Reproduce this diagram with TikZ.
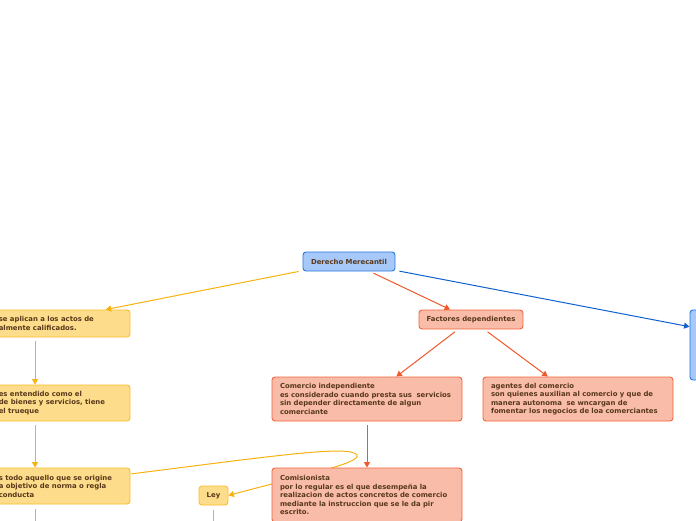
\documentclass[tikz,border=0pt]{standalone}
\usepackage{fontspec}
\setmainfont{DejaVu Sans}
\usetikzlibrary{arrows.meta,positioning,calc}
\definecolor{topicblue}{RGB}{166,201,250}
\definecolor{edgeblue}{RGB}{38,120,222}
\definecolor{linkblue}{RGB}{16,96,208}
\definecolor{topicsalmon}{RGB}{248,188,168}
\definecolor{edgesalmon}{RGB}{242,100,60}
\definecolor{linksalmon}{RGB}{240,88,40}
\definecolor{topicyellow}{RGB}{253,221,140}
\definecolor{edgeyellow}{RGB}{250,190,40}
\definecolor{linkyellow}{RGB}{248,178,16}
\definecolor{inkbrown}{RGB}{88,56,24}

\begin{document}
\begin{tikzpicture}[x=1pt, y=-1pt,
      font=\fontsize{6.9}{8.5}\selectfont\bfseries,
      t/.style={rectangle, rounded corners=3pt, draw, line width=0.9pt, text=inkbrown, inner sep=0pt},
      tb/.style={t, fill=topicblue, draw=edgeblue},
      ts/.style={t, fill=topicsalmon, draw=edgesalmon},
      ty/.style={t, fill=topicyellow, draw=edgeyellow},
      wide/.style={align=left, text width=174pt, minimum width=190pt, minimum height=44pt},
      cut/.style={text=inkbrown, align=left, inner sep=0pt, anchor=west},
      lk/.style={line width=1pt, shorten <=4pt, -{Triangle[length=5.5pt,width=6pt]}},
      stub/.style={line width=1pt, shorten <=5pt}]
    \useasboundingbox (0,0) rectangle (696,520);
    \clip (0,0) rectangle (696,520);
    % root and right branch
    \node[tb, minimum width=92pt, minimum height=19pt] (root) at (349,261.5) {Derecho Merecantil};
    \node[tb, minimum width=192pt, minimum height=70pt] (side) at (786,345) {};
    % left branch (cut by the frame)
    \node[ty, minimum width=190pt, minimum height=27pt] (leyes) at (35,323.5) {};
    \node[cut] at ($(leyes.west)+(59,0)$) {se aplican a los actos de\\almente calificados.};
    \node[ty, minimum width=190pt, minimum height=36pt] (comercio) at (35,403) {};
    \node[cut] at ($(comercio.west)+(59,0)$) {es entendido como el\\de bienes y servicios, tiene\\el trueque};
    \node[ty, minimum width=190pt, minimum height=36pt] (acto) at (35,486) {};
    \node[cut] at ($(acto.west)+(59,0)$) {s todo aquello que se origine\\a objetivo de norma o regla\\conducta};
    \node[ty, minimum width=29pt, minimum height=19pt] (ley) at (213.5,495.5) {Ley};
    \coordinate (actoKid) at (35,560);
    \coordinate (leyKid) at (213.5,560);
    % middle branch
    \node[ts, minimum width=104pt, minimum height=19pt] (fac) at (471,319.5) {Factores dependientes};
    \node[ts, wide] (indep) at (367,399) {Comercio independiente\\es considerado cuando presta sus\ \ servicios\\sin depender directamente de algun\\comerciante};
    \node[ts, wide] (agentes) at (578,399) {agentes del comercio\\son quienes auxilian al comercio y que de\\manera autonoma\ \ se wncargan de\\fomentar los negocios de loa comerciantes};

    \draw[lk, linkyellow] (root) -- (leyes);
    \draw[lk, linkyellow] (leyes) -- (comercio);
    \draw[lk, linkyellow] (comercio) -- (acto);
    \draw[stub, linkyellow] (acto) -- (actoKid);
    \draw[stub, linkyellow] (ley) -- (leyKid);
    \draw[lk, linkyellow, shorten <=1pt] ($(acto.east)+(0,-12)$) .. controls (280,455) and (350,445) .. (357,455)
        .. controls (362,463) and (300,476) .. (ley.east);
    \draw[lk, linksalmon] (root) -- (fac);
    \draw[lk, linksalmon] (fac) -- (indep);
    \draw[lk, linksalmon] (fac) -- (agentes);
    \draw[lk, linkblue] (root) -- (side);

    \node[ts, wide, minimum height=54pt] (comis) at (367,495) {Comisionista\\por lo regular es el que desempeña la\\realizacion de actos concretos de comercio\\mediante la instruccion que se le da pir\\escrito.};
    \draw[lk, linksalmon] (indep) -- (comis);
  \end{tikzpicture}
\end{document}
